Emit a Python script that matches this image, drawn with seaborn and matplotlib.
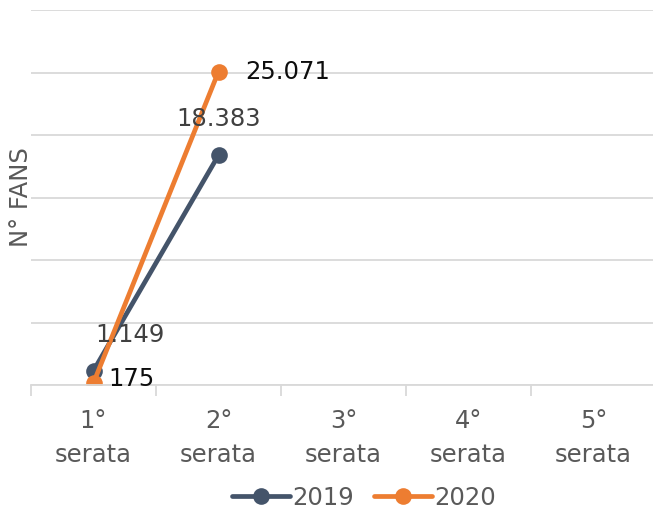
import pandas as pd
import matplotlib.pyplot as plt
import seaborn as sns

# Dati
serate = ["1°\nserata", "2°\nserata", "3°\nserata", "4°\nserata", "5°\nserata"]
fans_2019 = [1149, 18383]
fans_2020 = [175, 25071]
etichette_2019 = ["1.149", "18.383"]
etichette_2020 = ["175", "25.071"]

df = pd.DataFrame({
    "pos": list(range(len(fans_2019))) + list(range(len(fans_2020))),
    "fans": fans_2019 + fans_2020,
    "anno": ["2019"] * len(fans_2019) + ["2020"] * len(fans_2020),
})

sns.set_style("white")
plt.rcParams["font.family"] = ["DejaVu Sans"]

fig = plt.figure(figsize=(6.53, 5.16), dpi=100)
ax = fig.add_axes([31 / 653, 131 / 516, 625 / 653, 375 / 516])

colori = {"2019": "#44546A", "2020": "#ED7D31"}
sns.lineplot(data=df, x="pos", y="fans", hue="anno", palette=colori,
             marker="o", markersize=12, markeredgewidth=0, linewidth=3.4,
             ax=ax, legend=True)

fs = 17.5
# etichette dati
for i, (v, t) in enumerate(zip(fans_2019, etichette_2019)):
    dx = 37 if i == 0 else 0
    ax.annotate(t, (i, v), xytext=(dx * 0.72, 26), textcoords="offset points",
                ha="center", va="center", fontsize=fs, color="#404040")
for i, (v, t) in enumerate(zip(fans_2020, etichette_2020)):
    ax.annotate(t, (i, v), xytext=(11 if i == 0 else 19, 3 if i == 0 else 0),
                textcoords="offset points", ha="left", va="center",
                fontsize=fs, color="#0d0d0d")

ax.set_xlim(-0.5, 4.5)
ax.set_ylim(0, 30000)
ax.set_yticks(range(0, 30001, 5000))
ax.set_yticklabels([])
ax.tick_params(axis="y", length=0)
ax.yaxis.grid(True, color="#D9D9D9", linewidth=1.3)
ax.xaxis.grid(False)

ax.set_xticks(range(len(serate)))
ax.set_xticklabels(serate, fontsize=fs, color="#595959", linespacing=1.55)
ax.tick_params(axis="x", which="major", length=0, pad=17)
ax.set_xticks([i - 0.5 for i in range(len(serate) + 1)], minor=True)
ax.tick_params(axis="x", which="minor", bottom=True, length=8, width=1.3,
               color="#D9D9D9")

for s in ["top", "right", "left"]:
    ax.spines[s].set_visible(False)
ax.spines["bottom"].set_color("#D9D9D9")
ax.spines["bottom"].set_linewidth(1.3)

ax.set_xlabel("")
ax.set_ylabel("N° FANS", fontsize=fs, color="#595959")
ax.yaxis.set_label_coords(2 / 625, 0.5)

handles, labels = ax.get_legend_handles_labels()
ax.legend(handles, labels, loc="center", bbox_to_anchor=(364 / 653, 18 / 516),
          bbox_transform=fig.transFigure, ncol=2, frameon=False,
          fontsize=fs, labelcolor="#595959", handlelength=2.4,
          handletextpad=0.1, columnspacing=0.8)

fig.savefig("out.png", dpi=100)
